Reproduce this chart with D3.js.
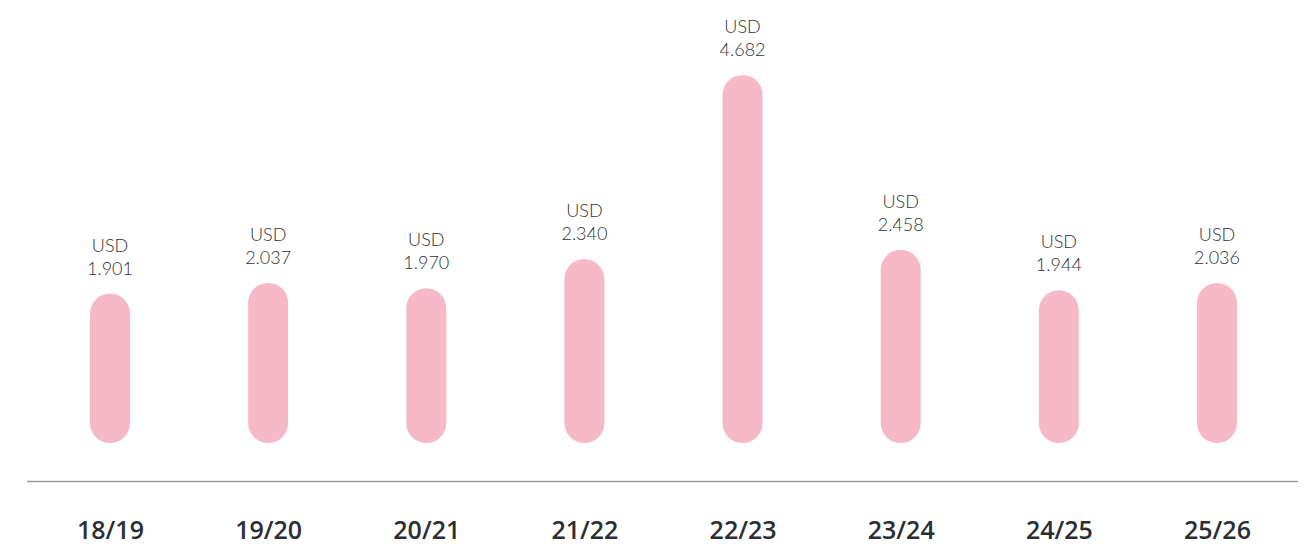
<!DOCTYPE html>
<html>
<head>
<meta charset="utf-8">
<script src="https://cdn.jsdelivr.net/npm/d3@7"></script>
<style>
  html, body { margin: 0; padding: 0; background: #fff; }
  svg { display: block; }
</style>
</head>
<body>
<div id="chart"></div>
<script>
// Season labels and values (USD)
const seasons = ["18/19", "19/20", "20/21", "21/22", "22/23", "23/24", "24/25", "25/26"];
const values = [1.901, 2.037, 1.970, 2.340, 4.682, 2.458, 1.944, 2.036];
const valueLabels = ["1.901", "2.037", "1.970", "2.340", "4.682", "2.458", "1.944", "2.036"];
const currency = "USD";

const W = 1304, H = 547;
const barWidth = 40;
const baseY = 443;

const svg = d3.select("#chart").append("svg")
    .attr("width", W)
    .attr("height", H);

const data = seasons.map((s, i) => ({season: s, value: values[i], label: valueLabels[i]}));

// x: one point per season
const x = d3.scalePoint()
    .domain(seasons)
    .range([110, 1217]);

// y: bars grow from 0 at the baseline
const y = d3.scaleLinear()
    .domain([0, 5])
    .range([baseY, baseY - 5 * 78.6]);

// Rounded bars
svg.selectAll(".bar")
    .data(data)
    .enter()
    .append("rect")
    .attr("class", "bar")
    .attr("x", d => x(d.season) - barWidth / 2)
    .attr("y", d => y(d.value))
    .attr("width", barWidth)
    .attr("height", d => y(0) - y(d.value))
    .attr("rx", barWidth / 2)
    .attr("ry", barWidth / 2)
    .attr("fill", "#f6b9c8");

// Value labels: two lines above each bar
const labels = svg.selectAll(".val")
    .data(data)
    .enter()
    .append("g")
    .attr("class", "val")
    .attr("transform", d => `translate(${x(d.season)},${y(d.value)})`)
    .style("font-family", "Lato, 'Open Sans', sans-serif")
    .style("font-size", "18px")
    .style("font-weight", "300")
    .style("fill", "#2f3235")
    .attr("text-anchor", "middle");

labels.append("text")
    .attr("y", -42)
    .text(currency);

labels.append("text")
    .attr("y", -19)
    .text(d => d.label);

// Horizontal axis line
svg.append("line")
    .attr("x1", 27)
    .attr("x2", 1298)
    .attr("y1", 481.5)
    .attr("y2", 481.5)
    .attr("stroke", "#9c9ca0")
    .attr("stroke-width", 1.5);

// Category labels
const xAxis = d3.axisBottom(x).tickSize(0).tickPadding(0);
const gx = svg.append("g")
    .attr("transform", "translate(0,530)")
    .call(xAxis);
gx.select(".domain").remove();
gx.selectAll("text")
    .attr("dy", "0.35em")
    .style("font-family", "'Open Sans', Lato, sans-serif")
    .style("font-weight", "600")
    .style("font-size", "25px")
    .style("fill", "#2b2f33");
</script>
</body>
</html>
